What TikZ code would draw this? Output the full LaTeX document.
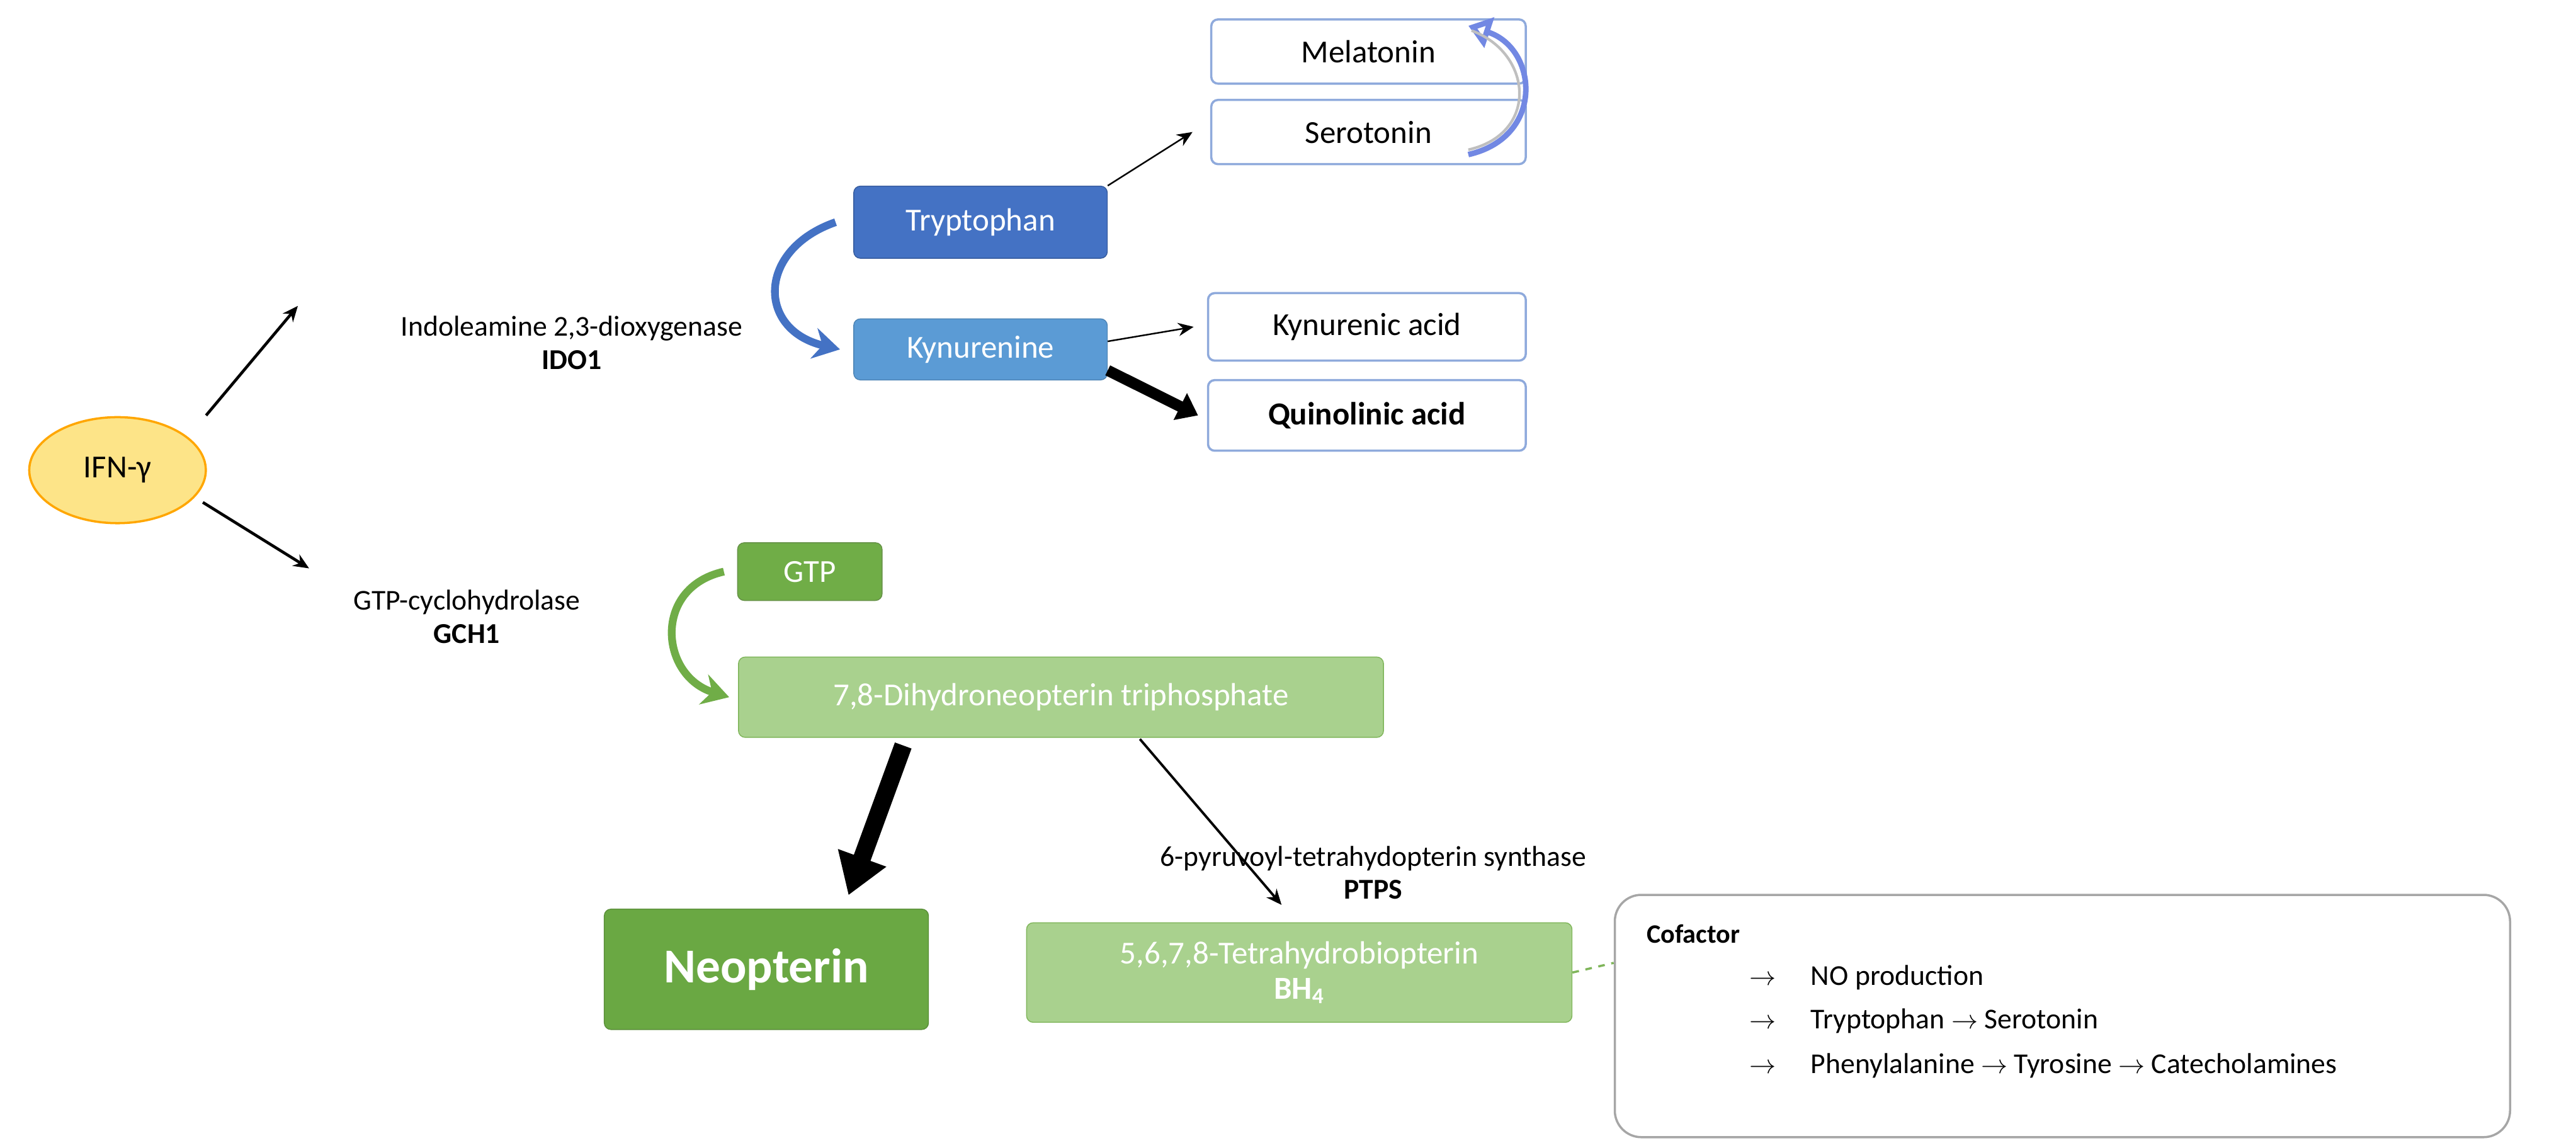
\documentclass[tikz,border=0pt]{standalone}
\usepackage{fontspec}
\setmainfont{Carlito}
\usetikzlibrary{arrows.meta,shapes.geometric}
\definecolor{dblue}{HTML}{4472C4}
\definecolor{lblue}{HTML}{5B9BD5}
\definecolor{bbord}{HTML}{8FAADC}
\definecolor{gdark}{HTML}{6AA843}
\definecolor{gmid}{HTML}{70AD47}
\definecolor{glight}{HTML}{A9D18E}
\definecolor{gbord}{HTML}{7FB55A}
\tikzset{
 box/.style={rounded corners=3pt,inner sep=0pt,font=\fontsize{14.5}{16}\selectfont},
 wbox/.style={box,draw=bbord,line width=1pt,fill=white,text=black},
 lab/.style={font=\fontsize{13}{15}\selectfont,align=center},
 arr/.style={-{Stealth[length=7pt,width=6pt]},line width=0.9pt},
}
\begin{document}
\begin{tikzpicture}[x=0.02557cm,y=-0.02557cm]
\useasboundingbox (0,0) rectangle (1600,712.6);
% IFN
\node[ellipse,draw=orange!70!yellow,fill=yellow!60!orange!45,line width=1pt,minimum width=79.8pt,minimum height=47.9pt,inner sep=0pt,font=\fontsize{14.5}{16}\selectfont] (ifn) at (73,292) {IFN-γ};
\node[lab] (ido) at (355,213) {Indoleamine 2,3-dioxygenase\\\textbf{IDO1}};
\node[lab] (gch) at (290,383) {GTP-cyclohydrolase\\\textbf{GCH1}};
\coordinate (a1) at (185,190);
\coordinate (a2) at (192,353);
\draw[arr,line width=1.3pt] (128,258) -- (a1);
\draw[arr,line width=1.3pt] (126,312) -- (a2);
% kynurenine branch
\node[box,fill=dblue,draw=dblue!80!black,text=white,minimum width=114.6pt,minimum height=32.6pt] (trp) at (609,138) {Tryptophan};
\node[box,fill=lblue,draw=lblue!85!black,text=white,minimum width=114.6pt,minimum height=27.6pt] (kyn) at (609,217) {Kynurenine};
\node[wbox,minimum width=142.1pt,minimum height=29pt] (mel) at (850,32) {Melatonin};
\node[wbox,minimum width=142.1pt,minimum height=29pt] (ser) at (850,82) {Serotonin};
\node[wbox,minimum width=143.6pt,minimum height=30.5pt] (kya) at (849,203) {Kynurenic acid};
\node[wbox,minimum width=143.6pt,minimum height=31.9pt,font=\fontsize{14.5}{16}\selectfont\bfseries] (qa) at (849,258) {Quinolinic acid};
\draw[arr,line width=0.7pt] (trp.north east) -- ([xshift=-8pt]ser.west);
\draw[arr,line width=0.7pt] (kyn.east|-0,212) -- ([xshift=-6pt]kya.west);
\draw[-{Triangle[length=9pt,width=13pt]},line width=5pt] (kyn.east|-0,230) -- ([xshift=-4pt]qa.west);
\draw[-{Stealth[length=12pt,width=14pt]},line width=3.5pt,color=dblue] ([xshift=-8pt]trp.west) .. controls (470,155) and (470,205) .. ([xshift=-6pt]kyn.west);
\draw[{Triangle[open,length=10pt,width=14pt]}-,line width=2.5pt,color=bbord!80!blue] (912,16) .. controls (955,30) and (960,85) .. (912,96);
\draw[-,line width=1.2pt,color=lightgray] (914,19) .. controls (952,33) and (956,83) .. (912,93);
% pterin branch
\node[box,fill=gmid,draw=gbord!80!black,text=white,minimum width=65.3pt,minimum height=26.1pt] (gtp) at (503,355) {GTP};
\node[box,fill=glight,draw=gbord,text=white,minimum width=291.5pt,minimum height=36.3pt] (dh) at (659,433) {7,8-Dihydroneopterin triphosphate};
\draw[-{Stealth[length=12pt,width=14pt]},line width=3.5pt,color=gmid] ([xshift=-6pt]gtp.west) .. controls (405,365) and (410,420) .. ([xshift=-4pt]dh.west);
\node[box,fill=gdark,draw=gdark!85!black,text=white,minimum width=146.5pt,minimum height=54.4pt,font=\fontsize{22}{24}\selectfont\bfseries] (neo) at (476,602) {Neopterin};
\node[box,fill=glight,draw=gbord,text=white,minimum width=246.5pt,minimum height=45pt,align=center] (bh) at (807,604) {5,6,7,8-Tetrahydrobiopterin\\\textbf{BH\textsubscript{4}}};
\coordinate (n1) at (527,556);
\coordinate (b1) at (796,562);
\draw[-{Triangle[length=18pt,width=22pt]},line width=8pt] (561,463) -- (n1);
\draw[arr,line width=1.1pt] (708,459) -- (b1);
\node[lab] (ptps) at (853,542) {6-pyruvoyl-tetrahydopterin synthase\\\textbf{PTPS}};
\node[draw=gray!70,line width=1pt,rounded corners=12pt,minimum width=404.6pt,minimum height=109.5pt,inner sep=0pt] (cof) at (1281,631) {};
\draw[dashed,color=gbord,line width=1pt] (bh.east) -- (cof.west|-0,598);
\node[anchor=west,font=\fontsize{12}{14}\selectfont\bfseries] (c0) at (1018,580) {Cofactor};
\node[anchor=west,font=\fontsize{13}{15}\selectfont] (c1) at (1082,607) {$\rightarrow$\hspace{1.2em}NO production};
\node[anchor=west,font=\fontsize{13}{15}\selectfont] (c2) at (1082,634) {$\rightarrow$\hspace{1.2em}Tryptophan $\rightarrow$ Serotonin};
\node[anchor=west,font=\fontsize{13}{15}\selectfont] (c3) at (1082,662) {$\rightarrow$\hspace{1.2em}Phenylalanine $\rightarrow$ Tyrosine $\rightarrow$ Catecholamines};
\end{tikzpicture}
\end{document}
